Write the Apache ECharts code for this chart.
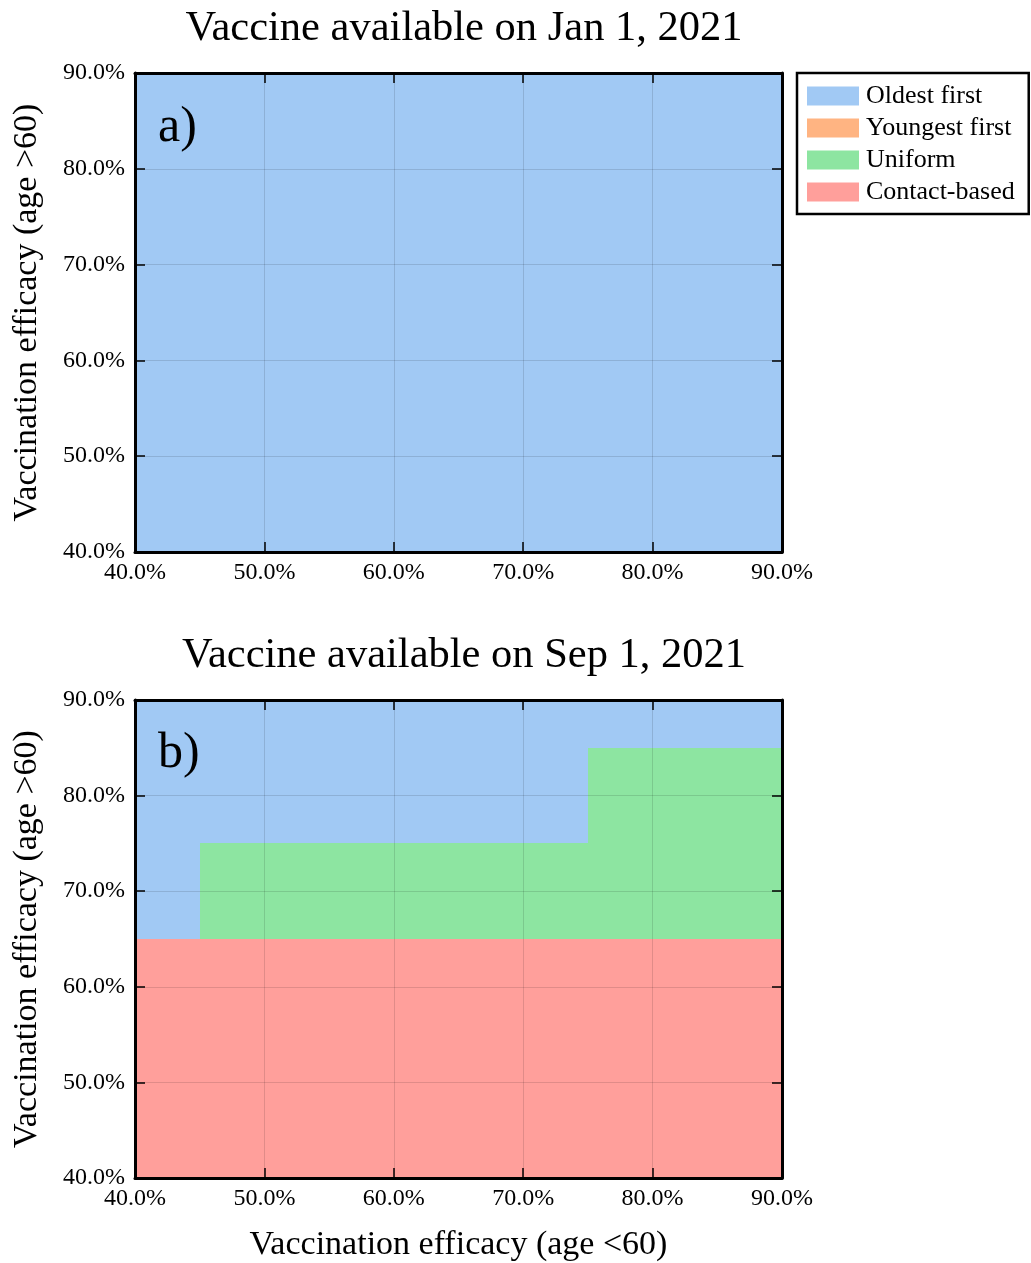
<!DOCTYPE html>
<html>
<head>
<meta charset="utf-8">
<title>Optimal vaccination strategy by vaccine efficacy</title>
<script src="https://cdn.jsdelivr.net/npm/echarts@6/dist/echarts.min.js"></script>
<style>
  html, body { margin: 0; padding: 0; background: #fff; }
  #chart { width: 1031px; height: 1263px; }
</style>
</head>
<body>
<div id="chart"></div>
<script>
// Cell edges (in %) for vaccine efficacy in the under-60 (x) and over-60 (y) groups
const efficacyEdges = [40, 45, 50, 55, 60, 65, 70, 75, 80, 85, 90];
const tickValues = [40, 50, 60, 70, 80, 90];

const strategies = ['Oldest first', 'Youngest first', 'Uniform', 'Contact-based'];
const strategyColors = ['#a1c9f4', '#ffb482', '#8de5a1', '#ff9f9b'];

const panelTitles = ['Vaccine available on Jan 1, 2021', 'Vaccine available on Sep 1, 2021'];
const panelTags = ['a)', 'b)'];

// Best strategy per cell (0 = Oldest first, 1 = Youngest first, 2 = Uniform, 3 = Contact-based).
// Rows are listed from the top (85–90% over-60 efficacy) down to the bottom (40–45%).
const bestJan2021 = [
  [0, 0, 0, 0, 0, 0, 0, 0, 0, 0],
  [0, 0, 0, 0, 0, 0, 0, 0, 0, 0],
  [0, 0, 0, 0, 0, 0, 0, 0, 0, 0],
  [0, 0, 0, 0, 0, 0, 0, 0, 0, 0],
  [0, 0, 0, 0, 0, 0, 0, 0, 0, 0],
  [0, 0, 0, 0, 0, 0, 0, 0, 0, 0],
  [0, 0, 0, 0, 0, 0, 0, 0, 0, 0],
  [0, 0, 0, 0, 0, 0, 0, 0, 0, 0],
  [0, 0, 0, 0, 0, 0, 0, 0, 0, 0],
  [0, 0, 0, 0, 0, 0, 0, 0, 0, 0]
];
const bestSep2021 = [
  [0, 0, 0, 0, 0, 0, 0, 0, 0, 0],
  [0, 0, 0, 0, 0, 0, 0, 2, 2, 2],
  [0, 0, 0, 0, 0, 0, 0, 2, 2, 2],
  [0, 2, 2, 2, 2, 2, 2, 2, 2, 2],
  [0, 2, 2, 2, 2, 2, 2, 2, 2, 2],
  [3, 3, 3, 3, 3, 3, 3, 3, 3, 3],
  [3, 3, 3, 3, 3, 3, 3, 3, 3, 3],
  [3, 3, 3, 3, 3, 3, 3, 3, 3, 3],
  [3, 3, 3, 3, 3, 3, 3, 3, 3, 3],
  [3, 3, 3, 3, 3, 3, 3, 3, 3, 3]
];
const panels = [bestJan2021, bestSep2021];

const FONT = '"Liberation Serif", "DejaVu Serif", serif';

// Turn a strategy matrix into [x0, x1, y0, y1] cells for one strategy
function cellsFor(matrix, s) {
  const out = [];
  const nRows = matrix.length;
  matrix.forEach((row, r) => {
    const yi = nRows - 1 - r;
    row.forEach((v, c) => {
      if (v === s) {
        out.push([efficacyEdges[c], efficacyEdges[c + 1], efficacyEdges[yi], efficacyEdges[yi + 1]]);
      }
    });
  });
  return out;
}

function renderCell(params, api) {
  const tl = api.coord([api.value(0), api.value(3)]);
  const br = api.coord([api.value(1), api.value(2)]);
  const x0 = Math.round(tl[0]), y0 = Math.round(tl[1]);
  const x1 = Math.round(br[0]), y1 = Math.round(br[1]);
  return {
    type: 'rect',
    shape: { x: x0, y: y0, width: x1 - x0, height: y1 - y0 },
    style: { fill: api.visual('color') }
  };
}

const pctLabel = v => v.toFixed(1) + '%';

const grids = [
  { left: 135, top: 73, width: 647, height: 479, containLabel: false, outerBoundsMode: 'none' },
  { left: 135, top: 700, width: 647, height: 478, containLabel: false, outerBoundsMode: 'none' }
];

const xAxes = [], yAxes = [], series = [];
const frameLine = { show: true, lineStyle: { color: '#000', width: 3 } };
const innerTick = { show: true, inside: true, length: 10, lineStyle: { color: '#000', width: 1.5 } };
const gridLine = { show: true, lineStyle: { color: 'rgba(0,0,0,0.12)', width: 1 } };

grids.forEach((g, i) => {
  const base = {
    gridIndex: i, type: 'value', min: 40, max: 90, interval: 10, z: 10,
    axisLine: frameLine, axisTick: innerTick
  };
  // bottom x axis with labels
  xAxes.push(Object.assign({}, base, {
    position: 'bottom',
    splitLine: gridLine,
    axisLabel: { show: true, formatter: pctLabel, fontFamily: FONT, fontSize: 24, color: '#000', margin: 9 },
    name: i === 1 ? 'Vaccination efficacy (age <60)' : '',
    nameLocation: 'middle', nameGap: 50,
    nameTextStyle: { fontFamily: FONT, fontSize: 34, color: '#000' }
  }));
  // top x axis, ticks only
  xAxes.push(Object.assign({}, base, {
    position: 'top', splitLine: { show: false }, axisLabel: { show: false }
  }));
  // left y axis with labels
  yAxes.push(Object.assign({}, base, {
    position: 'left',
    splitLine: gridLine,
    axisLabel: { show: true, formatter: pctLabel, fontFamily: FONT, fontSize: 24, color: '#000', margin: 10 },
    name: 'Vaccination efficacy (age >60)',
    nameLocation: 'middle', nameGap: 91, nameRotate: 90,
    nameTextStyle: { fontFamily: FONT, fontSize: 34, color: '#000' }
  }));
  // right y axis, ticks only
  yAxes.push(Object.assign({}, base, {
    position: 'right', splitLine: { show: false }, axisLabel: { show: false }
  }));

  strategies.forEach((name, s) => {
    series.push({
      type: 'custom',
      name: name,
      xAxisIndex: i * 2,
      yAxisIndex: i * 2,
      z: 2,
      itemStyle: { color: strategyColors[s] },
      encode: { x: [0, 1], y: [2, 3] },
      renderItem: renderCell,
      silent: true,
      data: cellsFor(panels[i], s)
    });
  });
});

const chart = echarts.init(document.getElementById('chart'), null, { renderer: 'canvas' });
chart.setOption({
  animation: false,
  backgroundColor: '#fff',
  title: panelTitles.map((t, i) => ({
    text: t,
    left: 459,
    textAlign: 'center',
    top: i === 0 ? 2 : 629,
    textStyle: { fontFamily: FONT, fontSize: 42.5, fontWeight: 'normal', color: '#000' }
  })),
  legend: {
    orient: 'vertical',
    left: 797,
    top: 73,
    padding: [10, 14, 9, 10],
    borderColor: '#000',
    borderWidth: 2.5,
    backgroundColor: '#fff',
    itemWidth: 52,
    itemHeight: 19,
    itemGap: 6,
    selectedMode: false,
    icon: 'rect',
    data: strategies.map((n, s) => ({ name: n, itemStyle: { color: strategyColors[s] } })),
    textStyle: { fontFamily: FONT, fontSize: 26, color: '#000', padding: [0, 0, 0, 2] }
  },
  grid: grids,
  xAxis: xAxes,
  yAxis: yAxes,
  series: series,
  graphic: panelTags.map((t, i) => ({
    type: 'text',
    left: 158,
    top: i === 0 ? 103 : 729,
    z: 20,
    style: { text: t, font: '50px ' + FONT, fill: '#000' }
  }))
});
</script>
</body>
</html>
